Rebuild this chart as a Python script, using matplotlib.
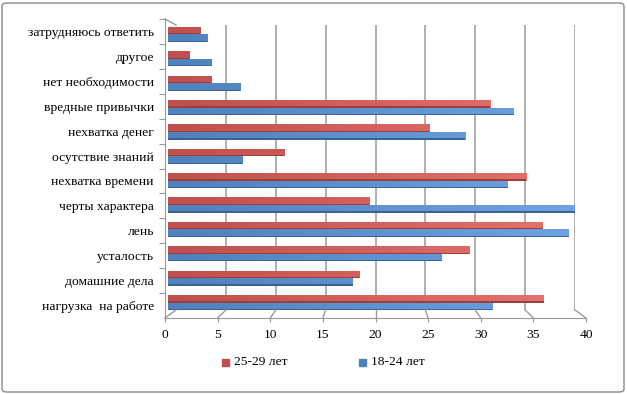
import matplotlib
matplotlib.use("Agg")
import matplotlib.pyplot as plt
import numpy as np
from matplotlib.colors import LinearSegmentedColormap
from matplotlib.patches import FancyBboxPatch, Rectangle
from matplotlib.lines import Line2D

plt.rcParams['font.family'] = ['Liberation Serif', 'DejaVu Serif']

categories = ["затрудняюсь ответить", "другое", "нет необходимости", "вредные привычки",
              "нехватка денег", "осутствие знаний", "нехватка времени", "черты характера",
              "лень", "усталость", "домашние дела", "нагрузка  на работе"]
series_names = ["25-29 лет", "18-24 лет"]
vals_25_29 = [3.1, 2.1, 4.2, 31.2, 25.3, 11.3, 34.7, 19.5, 36.3, 29.2, 18.5, 36.4]
vals_18_24 = [3.8, 4.2, 7.0, 33.5, 28.8, 7.2, 32.9, 39.4, 38.8, 26.5, 17.9, 31.4]
x_ticks = [0, 5, 10, 15, 20, 25, 30, 35, 40]

W, H = 627, 394
fig = plt.figure(figsize=(W / 100, H / 100), dpi=100)

def px_axes(x0, y0, x1, y1, **kw):
    return fig.add_axes([x0 / W, 1 - y1 / H, (x1 - x0) / W, (y1 - y0) / H], **kw)

# chart border
fig.patches.append(FancyBboxPatch((2 / W, 2 / H), (W - 5) / W, (H - 5) / H,
                                  boxstyle="round,pad=0,rounding_size=0.008",
                                  transform=fig.transFigure, fill=False,
                                  edgecolor="#8a8a8a", linewidth=1.0))

# geometry of pseudo-3D
FX0, FX1, FY0, FY1 = 165, 586, 19, 318     # front plane
BX0, BX1, BY0, BY1 = 176, 575, 25, 310     # back wall
XMAX = 40

# back wall gridlines
back = px_axes(BX0, BY0, BX1, BY1)
back.set_xlim(0, XMAX)
back.set_ylim(0, 1)
back.axis("off")
for t in x_ticks[1:]:
    back.axvline(t, color="#9a9a9a", lw=1.1)

def bx(v):
    return BX0 + (BX1 - BX0) * v / XMAX
def fx(v):
    return FX0 + (FX1 - FX0) * v / XMAX
for t in x_ticks:
    fig.add_artist(Line2D([bx(t) / W, fx(t) / W], [1 - BY1 / H, 1 - FY1 / H],
                          transform=fig.transFigure, color="#9a9a9a", lw=1.0))
fig.add_artist(Line2D([FX0 / W, BX0 / W], [1 - FY0 / H, 1 - BY0 / H],
                      transform=fig.transFigure, color="#9a9a9a", lw=1.0))

# front axes (labels)
front = px_axes(FX0, FY0, FX1, FY1)
front.set_xlim(0, XMAX)
n = len(categories)
front.set_ylim(n - 0.5, -0.5)
front.patch.set_alpha(0)
front.set_xticks(x_ticks)
front.set_yticks(np.arange(n) - 0.5, minor=False)
front.set_yticklabels([])
front.set_yticks(np.arange(n), minor=True)
front.set_yticklabels(categories, minor=True)
front.tick_params(axis="y", which="minor", length=0, pad=8, labelsize=9.7)
front.tick_params(axis="y", which="major", length=4, color="#9a9a9a", direction="out")
front.tick_params(axis="x", length=3, color="#9a9a9a", labelsize=9.7, pad=5)
for s in ["top", "right"]:
    front.spines[s].set_visible(False)
front.spines["left"].set_color("#9a9a9a")
front.spines["bottom"].set_color("#9a9a9a")

# bars
ax = px_axes(168, 22.3, 581, 314.7)
ax.set_xlim(0, XMAX)
ax.set_ylim(n - 0.5, -0.5)
ax.axis("off")
ax.patch.set_alpha(0)
y = np.arange(n)
h = 0.31
specs = [(vals_25_29, -h / 2, "#C0504D", "#E8736F", "#9A3F3C"),
         (vals_18_24, h / 2, "#4F81BD", "#6FA3E3", "#3A6395")]
grad = np.linspace(0, 1, 128)[None, :]
for vals, off, base, light, dark in specs:
    cmap = LinearSegmentedColormap.from_list("g", [base, light])
    bars = ax.barh(y + off, vals, height=h, color=base, edgecolor="none", zorder=2)
    for b, v in zip(bars, vals):
        yc = b.get_y()
        im = ax.imshow(grad * (v / XMAX), cmap=cmap, vmin=0, vmax=1, aspect="auto",
                       extent=[0, v, yc + h, yc], zorder=3, interpolation="bilinear")
        im.set_clip_path(b)
    ax.barh(y + off + h / 2 - 0.025, vals, height=0.05, color=dark, edgecolor="none", zorder=4)
ax.set_xlim(0, XMAX)
ax.set_ylim(n - 0.5, -0.5)

# legend
lx, ly = 226, 362
fig.add_artist(Rectangle(((lx - 4) / W, 1 - (ly + 4) / H), 7 / W, 7 / H,
                         transform=fig.transFigure, color="#C0504D"))
fig.text((lx + 8) / W, 1 - ly / H, series_names[0], fontsize=9.7, va="center", ha="left")
lx2 = 363
fig.add_artist(Rectangle(((lx2 - 4) / W, 1 - (ly + 4) / H), 7 / W, 7 / H,
                         transform=fig.transFigure, color="#4F81BD"))
fig.text((lx2 + 8) / W, 1 - ly / H, series_names[1], fontsize=9.7, va="center", ha="left")

fig.savefig("out.png", dpi=100)
